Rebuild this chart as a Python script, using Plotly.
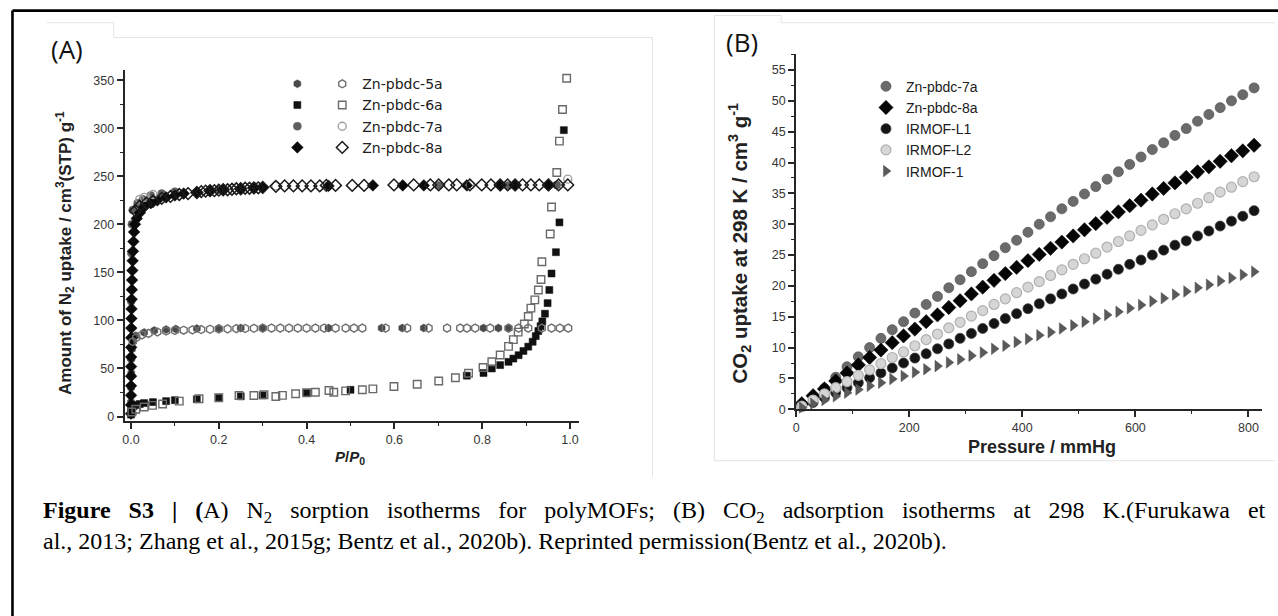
import plotly.graph_objects as go

W, H = 1278, 616

# ---------------- Panel A data (P/P0 vs N2 uptake) ----------------
x5a_ads = [0.0001, 0.0003, 0.0006, 0.001, 0.002, 0.004, 0.011, 0.03, 0.053, 0.08, 0.102, 0.15, 0.2, 0.25, 0.3, 0.45,
           0.571, 0.618, 0.667, 0.803, 0.837, 0.86]
y5a_ads = [15, 30, 45, 60, 70, 78, 84, 87.5, 89.5, 90.5, 91, 91.5, 91.8, 92, 92, 92,
           92, 92, 92, 92, 92, 92]
x5a_des = [0.996, 0.977, 0.958, 0.936, 0.905, 0.883, 0.86, 0.818, 0.784, 0.765, 0.75, 0.72, 0.678, 0.629, 0.58,
           0.527, 0.508, 0.489, 0.466, 0.44, 0.42, 0.4, 0.38, 0.36, 0.34, 0.32, 0.3, 0.28, 0.26, 0.24, 0.22, 0.2,
           0.18, 0.16, 0.14, 0.12, 0.1, 0.08, 0.06, 0.04, 0.025, 0.012, 0.004]
y5a_des = [92, 92, 92, 92, 92, 92, 92, 92, 92, 92, 92, 92, 92, 92, 92,
           92, 92, 92, 92, 92, 92, 92, 92, 92, 92, 92, 92, 91.8, 91.6, 91.4, 91.2, 91,
           90.8, 90.5, 90.2, 89.8, 89.5, 89, 88, 86.5, 85, 82, 78]

x6a_ads = [0.00005, 0.0003, 0.001, 0.003, 0.006, 0.01, 0.02, 0.03, 0.05, 0.08, 0.1, 0.15, 0.2, 0.25, 0.3, 0.4,
           0.5, 0.765, 0.803, 0.822, 0.841, 0.86, 0.871, 0.883, 0.894, 0.905, 0.915, 0.922, 0.928, 0.933,
           0.937, 0.943, 0.949, 0.953, 0.958, 0.968, 0.976, 0.986]
y6a_ads = [2, 5, 8, 10, 11, 12, 13, 14, 15, 16, 17, 18, 19.5, 21, 22, 24.5,
           27.8, 42.5, 45.3, 50, 53.5, 56.9, 60.3, 63.8, 68.2, 72.7, 77.8, 83.7, 89, 94,
           99, 107, 118, 131.7, 148.8, 171, 202, 298]
x6a_des = [0.9925, 0.983, 0.976, 0.97, 0.958, 0.955, 0.936, 0.934, 0.928, 0.92, 0.911, 0.905, 0.896, 0.882,
           0.871, 0.86, 0.841, 0.822, 0.802, 0.769, 0.739, 0.701, 0.652, 0.599, 0.551, 0.527, 0.489, 0.462,
           0.451, 0.42, 0.4, 0.375, 0.345, 0.33, 0.303, 0.28, 0.246, 0.2, 0.155, 0.11, 0.072, 0.049, 0.03,
           0.011, 0.002]
y6a_des = [352, 319.5, 286.6, 254, 218, 190, 161, 142.6, 131.7, 121.4, 112.8, 104, 96.3, 87.8,
           80, 73, 64, 57, 51, 45, 40.4, 37, 33.6, 31.2, 28.8, 27.8, 26.7, 25.3,
           27, 25.3, 24.7, 23.7, 22, 20.9, 22.6, 21.9, 21.9, 19.5, 18.5, 16, 13, 11.6, 9.9,
           7.5, 4.7]

x7a_ads = [0.0001, 0.0005, 0.001, 0.002, 0.004, 0.015, 0.027, 0.045, 0.07, 0.1, 0.2, 0.3, 0.45, 0.701, 0.86, 0.97]
y7a_ads = [60, 120, 170, 200, 215, 222, 226, 230, 232, 234, 236, 238, 240, 240.5, 240.5, 241]
x7a_des = [0.995, 0.772, 0.33, 0.05, 0.03, 0.02]
y7a_des = [247, 241, 240, 231, 228, 226]

x8a_ads = [0.00001, 0.00003, 0.00006, 0.0001, 0.00015, 0.0002, 0.0003, 0.0004, 0.0005, 0.0007, 0.0009, 0.0012,
           0.0015, 0.0019, 0.0024, 0.003, 0.0037, 0.0045, 0.0055, 0.007, 0.009, 0.013, 0.02, 0.03, 0.045, 0.06,
           0.08, 0.1, 0.12, 0.15, 0.18, 0.21, 0.25, 0.28, 0.3, 0.45, 0.551, 0.619, 0.667, 0.765, 0.841, 0.875,
           0.951]
y8a_ads = [3, 12, 22, 32, 42, 52, 62, 72, 82, 92, 102, 112,
           122, 132, 142, 152, 162, 172, 182, 192, 200, 206, 212, 218, 222, 225,
           228, 230, 232, 233.5, 235, 236, 237, 237.5, 238, 240, 240.5, 240.5, 240.5, 240.5, 240.5, 240.5,
           240.5]
x8a_des = [0.995, 0.974, 0.951, 0.93, 0.911, 0.892, 0.875, 0.858, 0.841, 0.82, 0.799, 0.772, 0.742, 0.724,
           0.701, 0.682, 0.644, 0.599, 0.531, 0.504, 0.466, 0.445, 0.43, 0.41, 0.39, 0.37, 0.35, 0.33, 0.3, 0.29,
           0.28, 0.27, 0.26, 0.25, 0.24, 0.23, 0.22, 0.21, 0.2, 0.19, 0.18, 0.17, 0.16, 0.15, 0.13, 0.11,
           0.09, 0.07, 0.05, 0.035, 0.02, 0.01]
y8a_des = [241, 241, 241, 241, 241, 241, 241, 241, 241, 241, 241, 241, 241, 241,
           241, 241, 241, 241, 240.5, 240.5, 240.5, 240.5, 240, 240, 240, 240, 240, 239.5, 238.5, 238,
           238, 237.5, 237.5, 237, 237, 236.5, 236, 236, 235.5, 235, 235, 234.5, 234, 233, 232, 231,
           229, 227, 224, 222, 219, 214]

labels_A = ["Zn-pbdc-5a", "Zn-pbdc-6a", "Zn-pbdc-7a", "Zn-pbdc-8a"]
xticks_A = [0.0, 0.2, 0.4, 0.6, 0.8, 1.0]
yticks_A = [0, 50, 100, 150, 200, 250, 300, 350]

# ---------------- Panel B data (pressure vs CO2 uptake) ----------------
pressure = [10, 30, 50, 70, 90, 110, 130, 150, 170, 190, 210, 230, 250, 270, 290, 310, 330, 350, 370, 390,
            410, 430, 450, 470, 490, 510, 530, 550, 570, 590, 610, 630, 650, 670, 690, 710, 730, 750, 770,
            790, 810]
co2_7a = [0.8, 2.0, 3.4, 5.2, 6.9, 8.5, 10.0, 11.5, 12.9, 14.2, 15.6, 17.0, 18.3, 19.7, 21.0, 22.3, 23.6, 24.9,
          26.2, 27.4, 28.7, 30.0, 31.2, 32.5, 33.7, 34.9, 36.1, 37.3, 38.5, 39.7, 40.9, 42.1, 43.2, 44.4, 45.5,
          46.7, 47.8, 48.9, 50.0, 51.0, 52.1]
co2_8a = [0.9, 2.2, 3.3, 4.6, 5.9, 7.2, 8.4, 9.6, 10.8, 11.9, 13.0, 14.2, 15.3, 16.5, 17.6, 18.7, 19.8, 20.9,
          22.0, 23.0, 24.1, 25.1, 26.1, 27.1, 28.1, 29.1, 30.1, 31.1, 32.0, 33.0, 33.9, 34.9, 35.8, 36.7, 37.6,
          38.5, 39.3, 40.2, 41.1, 41.9, 42.8]
co2_L1 = [0.4, 1.1, 1.9, 2.7, 3.5, 4.3, 5.1, 5.9, 6.7, 7.5, 8.3, 9.0, 9.8, 10.6, 11.5, 12.3, 13.1, 13.9, 14.7,
          15.5, 16.3, 17.1, 17.9, 18.7, 19.5, 20.3, 21.1, 21.9, 22.7, 23.5, 24.2, 25.0, 25.8, 26.6, 27.3, 28.1,
          28.9, 29.7, 30.5, 31.3, 32.2]
co2_L2 = [0.5, 1.5, 2.5, 3.5, 4.5, 5.5, 6.4, 7.4, 8.4, 9.3, 10.3, 11.3, 12.2, 13.2, 14.1, 15.1, 16.0, 17.0, 17.9,
          18.9, 19.8, 20.7, 21.7, 22.6, 23.5, 24.4, 25.3, 26.3, 27.2, 28.1, 29.0, 29.9, 30.8, 31.7, 32.5, 33.4,
          34.3, 35.2, 36.0, 36.9, 37.7]
co2_I1 = [0.3, 0.9, 1.5, 2.1, 2.7, 3.2, 3.8, 4.3, 4.9, 5.4, 6.0, 6.5, 7.0, 7.6, 8.1, 8.7, 9.2, 9.8, 10.3, 10.9,
          11.4, 12.0, 12.5, 13.1, 13.6, 14.2, 14.7, 15.3, 15.8, 16.4, 16.9, 17.5, 18.0, 18.6, 19.1, 19.7, 20.2,
          20.8, 21.3, 21.8, 22.3]
labels_B = ["Zn-pbdc-7a", "Zn-pbdc-8a", "IRMOF-L1", "IRMOF-L2", "IRMOF-1"]
xticks_B = [0, 200, 400, 600, 800]
yticks_B = [0, 5, 10, 15, 20, 25, 30, 35, 40, 45, 50, 55]

# ---------------- helpers ----------------
def px(xp):
    return xp / W

def py(yp):
    return 1 - yp / H

fig = go.Figure()

def add(x, y, name, symbol, fill, line, size, xa, ya, legend, lw=1.3):
    fig.add_trace(go.Scatter(
        x=x, y=y, mode="markers", name=name, xaxis=xa, yaxis=ya, legend=legend,
        cliponaxis=False,
        marker=dict(symbol=symbol, size=size, color=fill, line=dict(color=line, width=lw)),
    ))

# Panel A: filled (adsorption) markers -> legend2 (blank names), open (desorption) -> legend
add(x5a_ads, y5a_ads, " ", "hexagon", "#4a4a4a", "#4a4a4a", 8, "x", "y", "legend2", 0.5)
add(x6a_ads, y6a_ads, " ", "square", "#111111", "#111111", 7, "x", "y", "legend2", 0.5)
add(x7a_ads, y7a_ads, " ", "circle", "#5e5e5e", "#5e5e5e", 8, "x", "y", "legend2", 0.5)
add(x8a_ads, y8a_ads, " ", "diamond", "#0a0a0a", "#0a0a0a", 9, "x", "y", "legend2", 0.5)
add(x5a_des, y5a_des, labels_A[0], "hexagon-open", "#6f6f6f", "#6f6f6f", 8, "x", "y", "legend", 1.4)
add(x6a_des, y6a_des, labels_A[1], "square-open", "#6a6a6a", "#6a6a6a", 7.5, "x", "y", "legend", 1.4)
add(x7a_des, y7a_des, labels_A[2], "circle-open", "#a0a0a0", "#a0a0a0", 8, "x", "y", "legend", 1.4)
add(x8a_des, y8a_des, labels_A[3], "diamond-open", "#1a1a1a", "#1a1a1a", 9, "x", "y", "legend", 1.5)

# Panel B (legend order: 7a, 8a, L1, L2, IRMOF-1)
add(pressure, co2_7a, labels_B[0], "circle", "#6b6b6b", "#5a5a5a", 10, "x2", "y2", "legend3", 0.8)
add(pressure, co2_8a, labels_B[1], "diamond", "#050505", "#050505", 11, "x2", "y2", "legend3", 0.5)
add(pressure, co2_L1, labels_B[2], "circle", "#151515", "#3c3c3c", 10, "x2", "y2", "legend3", 0.8)
add(pressure, co2_L2, labels_B[3], "circle", "#d6d6d6", "#b0b0b0", 10, "x2", "y2", "legend3", 1.2)
add(pressure, co2_I1, labels_B[4], "triangle-right", "#5a5a5a", "#4a4a4a", 10, "x2", "y2", "legend3", 0.5)

tickfont = dict(family="Liberation Sans, Arial, sans-serif", size=12.5, color="#363636")
axis_common = dict(showline=True, linecolor="#262626", linewidth=2, ticks="outside", ticklen=6, tickwidth=1.6,
                   tickcolor="#262626", showgrid=False, zeroline=False, tickfont=tickfont, mirror=False)

# Panel A axes: x=0 at px 128.3, 440 px / unit ; y=0 at 421.3, 0.972 px / unit
axL, axR = 122.0, 577.0
ayB, ayT = 426.0, 71.0
fig.update_layout(
    xaxis=dict(domain=[px(axL), px(axR)], range=[(axL - 128.3) / 440, (axR - 128.3) / 440],
               tickvals=xticks_A, tickformat=".1f", anchor="y",
               minor=dict(dtick=0.1, tick0=0, ticks="outside", ticklen=3, tickwidth=1.4, tickcolor="#262626"),
               **axis_common),
    yaxis=dict(domain=[py(ayB), py(ayT)], range=[(421.3 - ayB) / 0.972, (421.3 - ayT) / 0.972],
               tickvals=yticks_A, anchor="x",
               minor=dict(dtick=25, tick0=0, ticks="outside", ticklen=3, tickwidth=1.4, tickcolor="#262626"),
               **axis_common),
)
# Panel B axes: x=0 at px 795, 0.5667 px / unit ; y=0 at 414, 6.24 px / unit
bxL, bxR = 795.0, 1262.0
byB, byT = 414.0, 55.0
fig.update_layout(
    xaxis2=dict(domain=[px(bxL), px(bxR)], range=[0, (bxR - 795) / 0.5667], tickvals=xticks_B, anchor="y2",
                minor=dict(dtick=100, tick0=0, ticks="outside", ticklen=3, tickwidth=1.4, tickcolor="#262626"),
                **axis_common),
    yaxis2=dict(domain=[py(byB), py(byT)], range=[0, (414 - byT) / 6.24], tickvals=yticks_B, anchor="x2",
                minor=dict(dtick=2.5, tick0=0, ticks="outside", ticklen=3, tickwidth=1.4, tickcolor="#262626"),
                **axis_common),
)

legfont = dict(family="DejaVu Sans, sans-serif", size=14, color="#202020")
fig.update_layout(
    legend=dict(x=px(320), y=py(69), xanchor="left", yanchor="top", bgcolor="rgba(0,0,0,0)",
                font=legfont, itemwidth=30, tracegroupgap=0),
    legend2=dict(x=px(275), y=py(69), xanchor="left", yanchor="top", bgcolor="rgba(0,0,0,0)",
                 font=legfont, itemwidth=30),
    legend3=dict(x=px(865), y=py(71.5), xanchor="left", yanchor="top", bgcolor="rgba(0,0,0,0)",
                 font=dict(family="Liberation Sans, Arial, sans-serif", size=14, color="#202020"), itemwidth=30,
                 traceorder="normal"),
)

annots = []
annots.append(dict(text="<b>Amount of N<sub>2</sub> uptake / cm<sup>3</sup>(STP) g<sup>-1</sup></b>",
                   x=px(62), y=py(256), xref="paper", yref="paper", textangle=-90, showarrow=False,
                   font=dict(family="Liberation Sans, Arial, sans-serif", size=17, color="#222222"),
                   xanchor="center", yanchor="middle"))
annots.append(dict(text="<b><i>P</i>/<i>P</i><sub>0</sub></b>", x=px(348), y=py(463), xref="paper", yref="paper",
                   showarrow=False, font=dict(family="Liberation Sans, Arial, sans-serif", size=15, color="#222"),
                   xanchor="center", yanchor="middle"))
annots.append(dict(text="<b>CO<sub>2</sub> uptake at 298 K / cm<sup>3</sup> g<sup>-1</sup></b>",
                   x=px(738), y=py(246), xref="paper", yref="paper", textangle=-90, showarrow=False,
                   font=dict(family="Liberation Sans, Arial, sans-serif", size=20.5, color="#222222"),
                   xanchor="center", yanchor="middle"))
annots.append(dict(text="<b>Pressure / mmHg</b>", x=px(1041), y=py(452), xref="paper", yref="paper",
                   showarrow=False, font=dict(family="Liberation Sans, Arial, sans-serif", size=18, color="#222"),
                   xanchor="center", yanchor="middle"))
annots.append(dict(text="(A)", x=px(46), y=py(50), xref="paper", yref="paper", showarrow=False,
                   font=dict(family="Open Sans, sans-serif", size=26, color="#111"), xanchor="left", yanchor="middle"))
annots.append(dict(text="(B)", x=px(723), y=py(42), xref="paper", yref="paper", showarrow=False,
                   font=dict(family="Open Sans, sans-serif", size=26, color="#111"), xanchor="left", yanchor="middle"))

capfont = dict(family="Liberation Serif, Times New Roman, serif", size=24, color="#000000")
gap = " \u00a0\u00a0"  # justified first line: widened word gaps
line1_words = ["<b>Figure", "S3", "|", "(</b>A)", "N<sub>2</sub>", "sorption", "isotherms", "for", "polyMOFs;",
               "(B)", "CO<sub>2</sub>", "adsorption", "isotherms", "at", "298", "K.(Furukawa", "et"]
annots.append(dict(text=gap.join(line1_words),
                   x=px(38), y=py(518), xref="paper", yref="paper", showarrow=False, font=capfont,
                   xanchor="left", yanchor="middle"))
annots.append(dict(text="al., 2013; Zhang et al., 2015g; Bentz et al., 2020b). Reprinted permission(Bentz et al., 2020b).",
                   x=px(38), y=py(547), xref="paper", yref="paper", showarrow=False, font=capfont,
                   xanchor="left", yanchor="middle"))

shapes = []
# outer black frame
shapes.append(dict(type="line", xref="paper", yref="paper", x0=px(9.5), x1=px(1290), y0=py(10.7), y1=py(10.7),
                   line=dict(color="#000", width=2.6)))
shapes.append(dict(type="line", xref="paper", yref="paper", x0=px(9.5), x1=px(9.5), y0=py(10.7), y1=py(640),
                   line=dict(color="#000", width=2.6)))
# faint image edges
faint = dict(color="#e4e4e4", width=1)
for (x0, y0, x1, y1) in [(44, 23, 111, 23), (111, 23, 111, 38), (111, 38, 651, 38), (651, 38, 651, 482),
                         (713, 15.7, 780, 15.7), (780, 15.7, 780, 23), (780, 23, 1275, 23),
                         (713, 15.7, 713, 466), (713, 466, 1275, 466)]:
    shapes.append(dict(type="line", xref="paper", yref="paper", x0=px(x0), x1=px(x1), y0=py(y0), y1=py(y1),
                       line=faint))

fig.update_layout(width=W, height=H, margin=dict(l=0, r=0, t=0, b=0), paper_bgcolor="white",
                  plot_bgcolor="rgba(0,0,0,0)", annotations=annots, shapes=shapes, showlegend=True)

fig.write_html("out.html")
